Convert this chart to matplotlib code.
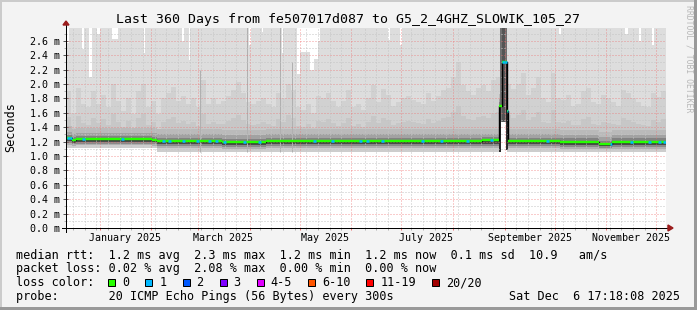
import numpy as np
import matplotlib
matplotlib.use('Agg')
import matplotlib.pyplot as plt
import matplotlib.dates as mdates
from matplotlib.patches import Rectangle, Polygon
from datetime import datetime

plt.rcParams['font.family'] = ['DejaVu Sans Mono']

start = datetime(2024, 12, 11, 17, 18, 8)
n_days = 360
bucket = 3  # days per smoke column

# tallest medium-grey smoke in every 3-day column (ms)
smoke_hi = [1.9, 1.6, 1.95, 1.72, 1.68, 1.9, 1.72, 1.85, 1.68, 2.0,
            1.76, 1.62, 1.8, 1.58, 1.9, 2.0, 1.68, 1.76, 1.58, 1.8,
            1.87, 1.96, 1.76, 1.83, 1.72, 1.8, 1.68, 2.05, 1.72, 1.8,
            1.72, 1.76, 1.83, 1.92, 2.03, 1.88, 1.75, 1.72, 1.76, 1.8,
            1.72, 1.68, 1.87, 1.8, 2.0, 1.92, 1.68, 1.64, 1.72, 1.6,
            1.83, 1.8, 1.87, 1.76, 1.68, 1.76, 1.92, 1.68, 1.72, 1.64,
            1.8, 1.98, 1.75, 1.93, 1.85, 1.7, 1.75, 1.8, 1.83, 1.78,
            1.75, 1.72, 1.87, 1.76, 1.83, 1.92, 1.95, 2.1, 2.3, 1.98,
            1.9, 1.85, 1.95, 1.98, 1.9, 2.05, 2.1, 2.0, 2.0, 1.93,
            2.0, 2.15, 1.85, 1.95, 2.1, 1.8, 1.75, 2.15, 1.8, 1.78,
            1.85, 1.7, 1.72, 1.9, 1.95, 1.75, 1.72, 1.85, 1.8, 1.75,
            1.7, 1.92, 1.88, 1.8, 1.75, 1.7, 1.68, 1.88, 1.82, 1.9]

# median rtt (ms), value holds from that day on
med_day = [0, 3.6, 6, 51.6, 54.6, 93.6, 120, 249.6, 259.8, 261.3, 264.6, 265.2, 296.4, 319.8, 327.6]
med_val = [1.25, 1.22, 1.235, 1.225, 1.21, 1.195, 1.21, 1.22, 1.7, 2.3, 1.62, 1.21, 1.2, 1.17, 1.2]

# lowest ping (ms)
low_day = [0, 54.6]
low_val = [1.11, 1.06]

# days where 1 of 20 pings was lost
loss_day = [0.6, 2.4, 9.6, 33, 57.6, 61.2, 69.6, 78, 85.2, 89.4, 94.2, 106.2, 115.2,
            148.2, 159, 175.8, 180, 189, 213, 224.4, 240, 254.4, 261.3, 263.1, 264.6,
            288, 326.4, 338.4, 349.2, 355.2, 358.2]

# columns where the slowest ping stayed below the graph top
gap_from = [0.6, 9.6, 13.8, 18.6, 27.6, 46.8, 69.6, 73.8, 109.8, 117.6, 129.6,
            138.6, 140.4, 146.4, 148.8, 151.2, 193.2, 200.4, 295.8, 335.4, 343.8, 351.6]
gap_to = [1.8, 10.8, 15.6, 20.4, 31.2, 47.4, 70.8, 74.4, 111.0, 118.2, 130.2,
          140.4, 146.4, 148.8, 151.2, 152.4, 194.4, 201.6, 297.0, 337.2, 345.0, 352.8]
gap_top = [2.57, 2.49, 2.10, 2.70, 2.62, 2.43, 2.60, 2.33, 2.54, 2.72, 2.43,
           2.14, 2.45, 2.20, 2.35, 2.60, 2.61, 2.54, 2.70, 2.70, 2.60, 2.54]

# thin darker streaks
streak_day = [80.6, 108.6, 128.4, 135.6]
streak_top = [2.2, 2.8, 2.8, 2.3]

# end of august spike
spike_from, spike_to, spike_floor = 259.8, 265.2, 1.47

loss_labels = ['0', '1', '2', '3', '4-5', '6-10', '11-19', '20/20']
loss_colors = ['#26ff00', '#00b8ff', '#0059ff', '#7e00ff', '#e000ff', '#ff5500', '#ff0000', '#a10000']

month_labels = ['January 2025', 'March 2025', 'May 2025', 'July 2025', 'September 2025', 'November 2025']
label_months = [1, 3, 5, 7, 9, 11]


def step_at(days, vals, d):
    idx = np.searchsorted(days, d, side='right') - 1
    return np.asarray(vals)[idx]


W, H = 697, 310
fig = plt.figure(figsize=(W / 100, H / 100), dpi=100, facecolor='#f3f3f3')
ax = fig.add_axes([66 / W, (H - 228) / H, 600 / W, 200 / H])
ax.set_facecolor('white')
t0 = mdates.date2num(start)
ytop = 200 / 72
ax.set_xlim(t0, t0 + n_days)
ax.set_ylim(0, ytop)
for s in ax.spines.values():
    s.set_visible(False)

# smoke
grid_days = np.unique(np.concatenate([med_day, low_day, [n_days]]))
gx = t0 + grid_days
gmed = step_at(med_day, med_val, grid_days)
glo = step_at(low_day, low_val, grid_days)
ax.fill_between(gx, glo, ytop, step='post', color='#dddddd', lw=0, zorder=1)

edges = t0 + np.arange(len(smoke_hi) + 1) * bucket
hi = np.append(smoke_hi, smoke_hi[-1])
bmed = step_at(med_day, med_val, np.arange(len(smoke_hi) + 1) * bucket + 1.5)
ax.fill_between(edges, bmed, hi, step='post', color='#d1d1d1', lw=0, zorder=1.1)
ax.fill_between(edges, bmed, bmed + 0.45 * (hi - bmed), step='post', color='#c7c7c7', lw=0, zorder=1.2)

for off, c in [(0.16, '#bababa'), (0.09, '#a2a2a2'), (0.045, '#828282')]:
    ax.fill_between(gx, gmed, gmed + off, step='post', color=c, lw=0, zorder=1.3)
for frac, c in [(1.0, '#cdcdcd'), (0.7, '#b0b0b0'), (0.5, '#8a8a8a'), (0.3, '#4a4a4a')]:
    ax.fill_between(gx, gmed - frac * (gmed - glo), gmed, step='post', color=c, lw=0, zorder=1.4)

for a, b, v in zip(gap_from, gap_to, gap_top):
    ax.fill_between([t0 + a, t0 + b], v, ytop, color='white', lw=0, zorder=1.5)

ax.vlines(t0 + np.array(streak_day), step_at(low_day, low_val, np.array(streak_day)),
          streak_top, color='#b0b0b0', lw=0.72, zorder=1.45)

# spike column
ax.fill_between([t0 + spike_from + 0.9, t0 + spike_to - 0.6], 0.9, spike_floor, color='white', lw=0, zorder=1.6)
ax.fill_between([t0 + spike_from + 0.5, t0 + spike_to - 0.5], spike_floor, ytop, color='#707070', lw=0, zorder=1.6)
ax.fill_between([t0 + spike_from + 1.8, t0 + spike_to - 1.8], spike_floor, ytop, color='#555555', lw=0, zorder=1.61)
ax.vlines([t0 + spike_from + 0.3, t0 + spike_to - 0.6], [1.05, 1.08],
          [step_at(med_day, med_val, spike_from), step_at(med_day, med_val, spike_from + 2)],
          color='#1a1a1a', lw=1.3, zorder=1.62)

# grid
dot = (0, (1, 2))
for v in np.arange(1, 28, 2) / 10:
    ax.axhline(v, color='#c4c4c4', lw=0.72, ls=dot, zorder=3)
for v in np.arange(2, 28, 2) / 10:
    ax.axhline(v, color='#ee7070', lw=0.72, ls=dot, alpha=0.7, zorder=3)
months = [mdates.date2num(datetime(2025, m, 1)) for m in range(1, 13)]
first_monday = mdates.date2num(datetime(2024, 12, 16))
weeks = [first_monday + 7 * k for k in range(52)]
weeks = [w for w in weeks if t0 < w < t0 + n_days and min(abs(w - m) for m in months) > 1]
for w in weeks:
    ax.axvline(w, color='#c4c4c4', lw=0.72, ls=dot, zorder=3)
for m in months:
    ax.axvline(m, color='#ee7070', lw=0.72, ls=dot, alpha=0.7, zorder=3)
xt = ax.get_xaxis_transform()
ax.vlines(weeks, -0.012, 0.0, transform=xt, color='#b0b0b0', lw=0.72, clip_on=False)
ax.vlines(months, -0.012, 0.0, transform=xt, color='#ee7070', lw=0.72, clip_on=False)
yt = ax.get_yaxis_transform()
ax.hlines(np.arange(1, 28, 2) / 10, -0.004, 0.0, transform=yt, color='#b0b0b0', lw=0.72, clip_on=False)
ax.hlines(np.arange(2, 28, 2) / 10, -0.005, 0.003, transform=yt, color='#555555', lw=0.72, clip_on=False)

# median line coloured by loss
mx = t0 + np.array(med_day + [n_days])
my = np.array(med_val + [med_val[-1]])
ax.step(mx, my, where='post', color='black', lw=1.0, zorder=5)
ax.hlines(med_val, mx[:-1], mx[1:], color=loss_colors[0], lw=1.75, zorder=6, capstyle='butt')
for d in loss_day:
    nxt = [c for c in med_day + [n_days] if c > d][0]
    ax.hlines(step_at(med_day, med_val, d), t0 + d, t0 + min(d + 1.8, nxt),
              color=loss_colors[1], lw=1.85, zorder=7, capstyle='butt')

# axes with arrows
ax.plot([0, 0], [-0.02, 1.015], transform=ax.transAxes, color='black', lw=0.72, clip_on=False, zorder=8)
ax.plot([-0.0067, 1.0033], [0, 0], transform=ax.transAxes, color='black', lw=0.72, clip_on=False, zorder=8)
ax.add_patch(Polygon([[-0.005, 1.015], [0.005, 1.015], [0, 1.035]], closed=True, transform=ax.transAxes,
                     color='#9b1c1c', clip_on=False, zorder=9))
ax.add_patch(Polygon([[1.0033, -0.015], [1.0033, 0.015], [1.0117, 0]], closed=True, transform=ax.transAxes,
                     color='#9b1c1c', clip_on=False, zorder=9))

yv = np.arange(0, 27, 2) / 10
ax.set_yticks(yv, [f'{v:.1f} m' for v in yv])
ax.set_xticks([mdates.date2num(datetime(2025, m, 16)) for m in label_months], month_labels)
ax.tick_params(axis='both', length=0, labelsize=7.2, colors='black')
ax.tick_params(axis='y', pad=4.3)
ax.tick_params(axis='x', pad=3.6)
ax.set_xticks([], minor=True)
ax.set_yticks([], minor=True)

fig.text(11 / W, 1 - 127 / H, 'Seconds', rotation=90, ha='center', va='center', fontsize=8.5)
fig.text(0.5, 1 - 19 / H, 'Last 360 Days from fe507017d087 to G5_2_4GHZ_SLOWIK_105_27',
         ha='center', va='center', fontsize=9.55)
fig.text(689 / W, 1 - 5 / H, 'RRDTOOL / TOBI OETIKER', rotation=270, ha='center', va='top',
         fontsize=5.9, color='#b8b8b8')

cw = 7.1
x0 = 16
rows = ['median rtt:  1.2 ms avg  2.3 ms max  1.2 ms min  1.2 ms now  0.1 ms sd  10.9   am/s',
        'packet loss: 0.02 % avg  2.08 % max  0.00 % min  0.00 % now',
        'loss color:',
        'probe:       20 ICMP Echo Pings (56 Bytes) every 300s']
baselines = [258.5, 272.2, 286, 299.8]
for r, b in zip(rows, baselines):
    fig.text(x0 / W, 1 - b / H, r, ha='left', va='baseline', fontsize=8.5)
fig.text(680 / W, 1 - 299.8 / H, 'Sat Dec  6 17:18:08 2025', ha='right', va='baseline', fontsize=8.5)

bx = x0 + 13 * cw
for lab, c in zip(loss_labels, loss_colors):
    fig.add_artist(Rectangle((bx / W, 1 - 285.5 / H), 7 / W, 7 / H, transform=fig.transFigure,
                             facecolor=c, edgecolor='black', lw=0.72))
    fig.text((bx + 14) / W, 1 - 286 / H, lab, ha='left', va='baseline', fontsize=8.5)
    bx = bx + 14 + len(lab) * cw + 16

# frame shading
fig.add_artist(Rectangle((0, 1 - 2 / H), 1, 2 / H, transform=fig.transFigure, color='#cbcbcb', lw=0))
fig.add_artist(Rectangle((0, 0), 2 / W, 1, transform=fig.transFigure, color='#cbcbcb', lw=0))
fig.add_artist(Rectangle((0, 0), 1, 3 / H, transform=fig.transFigure, color='#999999', lw=0))
fig.add_artist(Rectangle((1 - 3 / W, 0), 3 / W, 1, transform=fig.transFigure, color='#999999', lw=0))

fig.savefig('out.png', dpi=100, facecolor=fig.get_facecolor())
